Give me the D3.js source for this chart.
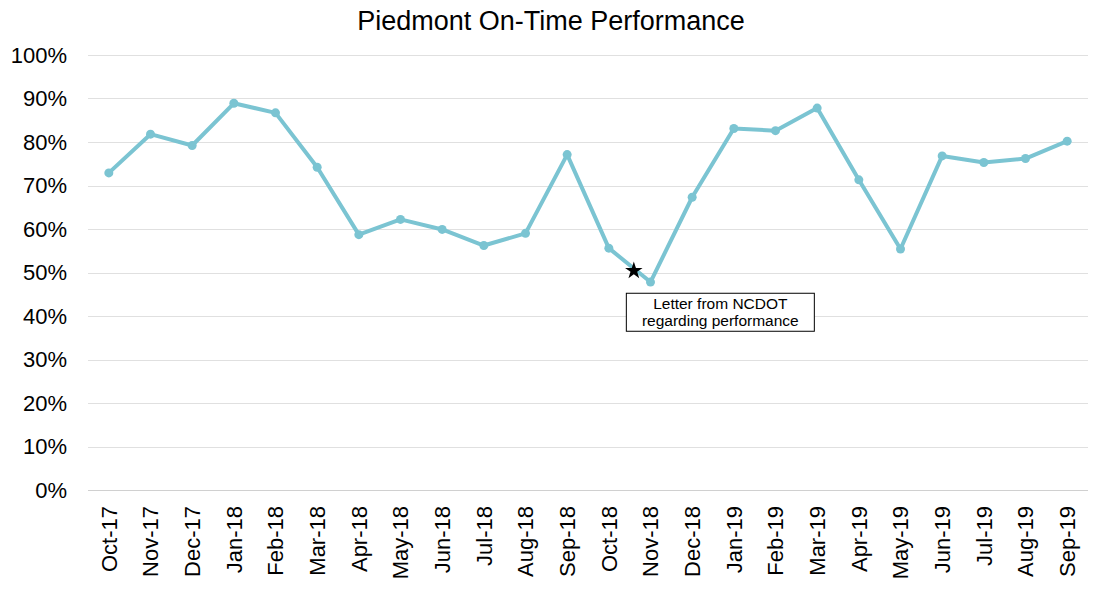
<!DOCTYPE html>
<html>
<head>
<meta charset="utf-8">
<script src="https://cdn.jsdelivr.net/npm/d3@7"></script>
<style>
  body { margin: 0; background: #fff; }
  svg { font-family: Arial, "Liberation Sans", sans-serif; }
</style>
</head>
<body>
<div id="chart"></div>
<script>
// months shown on the x axis
const months = ["Oct-17", "Nov-17", "Dec-17", "Jan-18", "Feb-18", "Mar-18", "Apr-18", "May-18",
  "Jun-18", "Jul-18", "Aug-18", "Sep-18", "Oct-18", "Nov-18", "Dec-18", "Jan-19", "Feb-19",
  "Mar-19", "Apr-19", "May-19", "Jun-19", "Jul-19", "Aug-19", "Sep-19"];

// on-time performance, percent
const onTime = [72.9, 81.8, 79.2, 88.9, 86.7, 74.2, 58.7, 62.2, 59.9, 56.2, 59.0, 77.1,
  55.6, 47.8, 67.3, 83.1, 82.6, 87.8, 71.3, 55.4, 76.8, 75.3, 76.2, 80.2];

const yTicks = [0, 10, 20, 30, 40, 50, 60, 70, 80, 90, 100];

// the star sits between Oct-18 and Nov-18
const note = { after: "Oct-18", frac: 0.6, value: 50.4, lines: ["Letter from NCDOT", "regarding performance"] };

const W = 1095, H = 592;
const margin = {top: 55, right: 7, bottom: 102, left: 88};
const width = W - margin.left - margin.right,
      height = H - margin.top - margin.bottom;

const svg = d3.select("#chart").append("svg")
    .attr("width", W)
    .attr("height", H);

svg.append("text")
    .attr("x", 551)
    .attr("y", 30)
    .attr("text-anchor", "middle")
    .attr("font-size", "27px")
    .attr("fill", "#000")
    .text("Piedmont On-Time Performance");

const g = svg.append("g")
    .attr("transform", `translate(${margin.left},${margin.top})`);

const x = d3.scaleBand().domain(months).range([0, width]);
const y = d3.scaleLinear().domain([0, 100]).range([height, 0]);
const cx = d => x(d) + x.bandwidth() / 2;

// gridlines
g.selectAll("line.grid")
  .data(yTicks)
  .enter().append("line")
    .attr("class", "grid")
    .attr("x1", 0)
    .attr("x2", width)
    .attr("y1", d => Math.round(y(d)) + 0.5)
    .attr("y2", d => Math.round(y(d)) + 0.5)
    .attr("stroke", d => d === 0 ? "#d0d0d0" : "#e0e0e0")
    .attr("stroke-width", 1);

// y axis
const yAxis = g.append("g")
    .call(d3.axisLeft(y).tickValues(yTicks).tickFormat(d => d + "%").tickSize(0).tickPadding(21));
yAxis.select(".domain").remove();
yAxis.selectAll("text")
    .attr("font-size", "22px")
    .attr("fill", "#000")
    .attr("font-family", "Arial, 'Liberation Sans', sans-serif");

// x axis
const xAxis = g.append("g")
    .attr("transform", `translate(0,${height})`)
    .call(d3.axisBottom(x).tickSize(0).tickPadding(0));
xAxis.select(".domain").remove();
xAxis.selectAll("text")
    .attr("font-size", "22px")
    .attr("fill", "#000")
    .attr("font-family", "Arial, 'Liberation Sans', sans-serif")
    .attr("text-anchor", "end")
    .attr("transform", "rotate(-90)")
    .attr("x", -16)
    .attr("y", 0)
    .attr("dy", "0.35em");

// line
const line = d3.line()
    .x((d, i) => cx(months[i]))
    .y(d => y(d));

g.append("path")
    .datum(onTime)
    .attr("fill", "none")
    .attr("stroke", "#7bc4d2")
    .attr("stroke-width", 4)
    .attr("stroke-linejoin", "round")
    .attr("d", line);

g.selectAll("circle.pt")
  .data(onTime)
  .enter().append("circle")
    .attr("class", "pt")
    .attr("cx", (d, i) => cx(months[i]))
    .attr("cy", d => y(d))
    .attr("r", 4.5)
    .attr("fill", "#7bc4d2");

// annotation
const sx = cx(note.after) + note.frac * x.step();
const sy = y(note.value);
g.append("path")
    .attr("d", d3.symbol().type(d3.symbolStar).size(95)())
    .attr("transform", `translate(${sx},${sy})`)
    .attr("fill", "#000");

const box = g.append("g")
    .attr("transform", `translate(${sx - 8},${sy + 22})`);
box.append("rect")
    .attr("x", 0.5)
    .attr("y", 0.5)
    .attr("width", 188)
    .attr("height", 38)
    .attr("fill", "#fff")
    .attr("stroke", "#000")
    .attr("stroke-width", 1);
box.selectAll("text")
  .data(note.lines)
  .enter().append("text")
    .attr("x", 94.5)
    .attr("y", (d, i) => 16 + i * 17)
    .attr("text-anchor", "middle")
    .attr("font-size", "15.5px")
    .attr("fill", "#000")
    .text(d => d);
</script>
</body>
</html>
